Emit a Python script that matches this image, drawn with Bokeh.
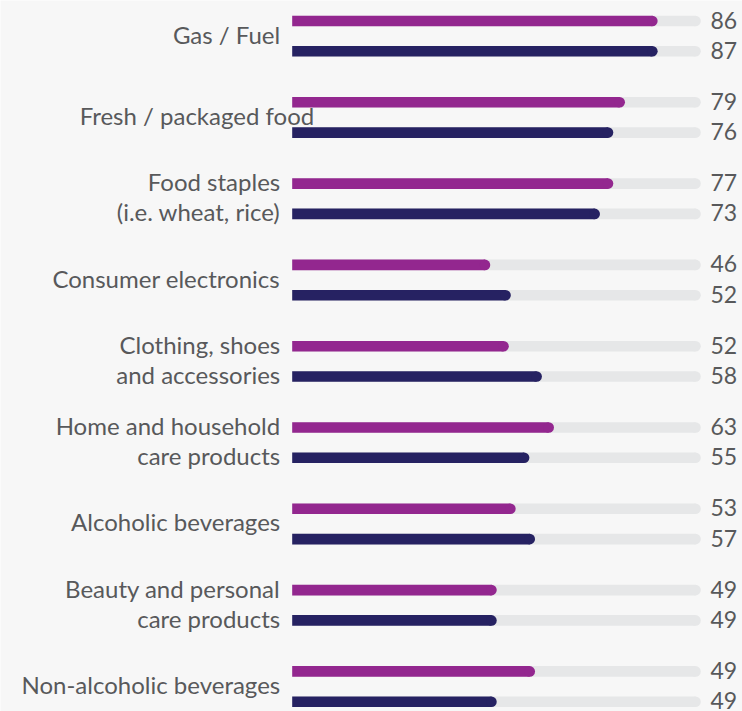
from bokeh.plotting import figure
from bokeh.models import Range1d, ColumnDataSource
from bokeh.embed import file_html
from bokeh.resources import INLINE
from bokeh.core.properties import value

# ---- data ----
categories = [
    "Gas / Fuel",
    "Fresh / packaged food",
    "Food staples\n(i.e. wheat, rice)",
    "Consumer electronics",
    "Clothing, shoes\nand accessories",
    "Home and household\ncare products",
    "Alcoholic beverages",
    "Beauty and personal\ncare products",
    "Non-alcoholic beverages",
]
# bar lengths as drawn (share of the 0-100 track)
series_a_bars = [89.3, 81.2, 78.3, 47.8, 52.4, 63.6, 54.1, 49.4, 58.9]
series_b_bars = [89.3, 78.3, 75.0, 52.9, 60.6, 57.5, 58.9, 49.4, 49.4]
# values printed at the right
series_a_labels = [86, 79, 77, 46, 52, 63, 53, 49, 49]
series_b_labels = [87, 76, 73, 52, 58, 55, 57, 49, 49]
track_max = 100

PURPLE = "#93278f"
NAVY = "#262262"
TRACK = "#e6e7e8"
TEXT = "#58595b"
BG = "#f7f7f7"
FONT = "Lato"

W, H = 742, 711
x0_px = 291.7
px_per_unit = (695.0 - x0_px) / 100.0
group_px = 81.3
first_px = 20.5
pair = 30.3 / group_px
bar_h = 10.6 / group_px

x_range = Range1d(-x0_px / px_per_unit, (W - x0_px) / px_per_unit)
y_range = Range1d((H - first_px) / group_px, -first_px / group_px)

p = figure(width=W, height=H, x_range=x_range, y_range=y_range,
           output_backend="svg", toolbar_location=None, min_border=0)
p.background_fill_color = BG
p.border_fill_color = BG
p.outline_line_color = None
p.axis.visible = False
p.grid.visible = False

n = len(categories)
ya = [i for i in range(n)]
yb = [i + pair for i in range(n)]

# tracks
ys_all = ya + yb
p.hbar(y=ys_all, left=0, right=[track_max] * (2 * n), height=bar_h,
       color=TRACK, line_color=None)
p.scatter(x=[track_max] * (2 * n), y=ys_all, size=10.6, color=TRACK,
          line_color=None, marker="circle")

# bars
for ys, vals, col in ((ya, series_a_bars, PURPLE), (yb, series_b_bars, NAVY)):
    p.hbar(y=ys, left=0, right=vals, height=bar_h, color=col, line_color=None)
    p.scatter(x=vals, y=ys, size=10.6, color=col, line_color=None, marker="circle")

# value labels
p.text(x=[track_max] * (2 * n), y=ys_all,
       text=[str(v) for v in series_a_labels + series_b_labels],
       x_offset=15, y_offset=-1, text_align="left", text_baseline="middle",
       text_font=value(FONT), text_font_size="23px", text_color=TEXT)

# category labels
lx, ly, lt, lo = [], [], [], []
for i, c in enumerate(categories):
    parts = c.split("\n")
    off = -12
    if c.startswith("Fresh"):
        off = 22
    if len(parts) == 1:
        lx.append(0); ly.append(i + pair / 2); lt.append(c); lo.append(off)
    else:
        lx += [0, 0]; ly += [i, i + pair]; lt += parts; lo += [off, off]
src = ColumnDataSource(dict(x=lx, y=ly, t=lt, o=lo))
p.text(x="x", y="y", text="t", x_offset="o", y_offset=-2, source=src,
       text_align="right", text_baseline="middle",
       text_font=value(FONT), text_font_size="24px", text_color=TEXT)

open("out.html", "w").write(file_html(p, INLINE))
